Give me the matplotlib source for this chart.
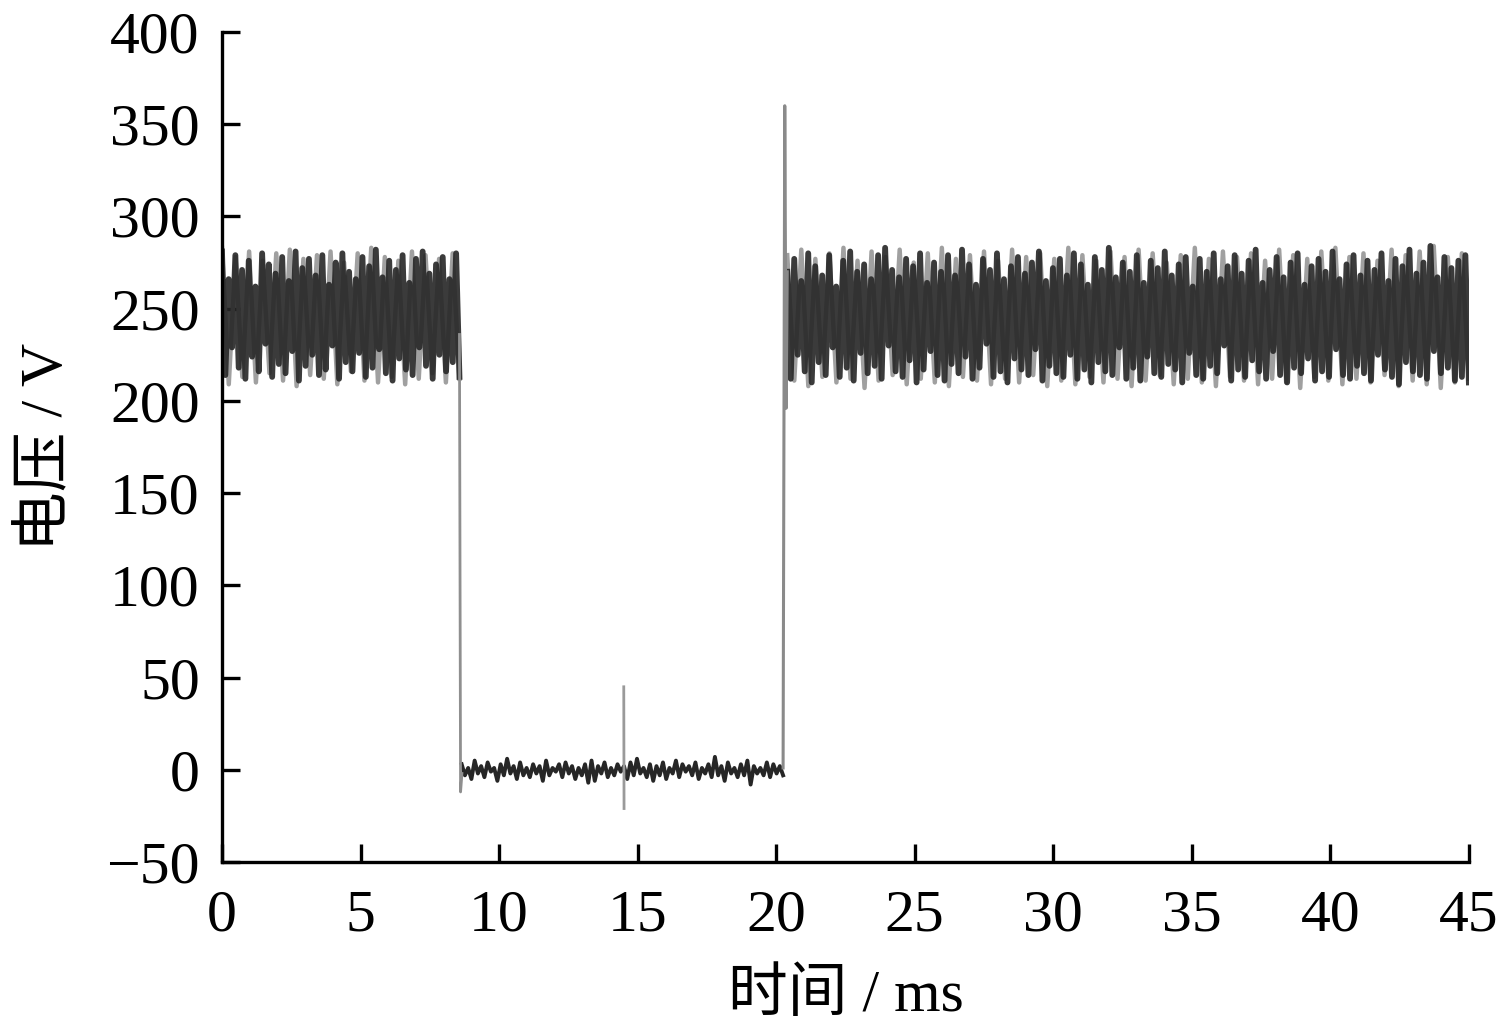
import matplotlib
matplotlib.use("Agg")
import matplotlib.pyplot as plt
import numpy as np

plt.rcParams['font.family'] = ['Liberation Serif', 'Noto Sans CJK SC']
plt.rcParams['axes.unicode_minus'] = True

# segment 1: 0 .. 8.57 ms, ~250 V with noise (peak / trough values)
a_t = (0.0, 8.57)
a_hi = [281, 266, 279, 271, 276, 262, 280, 274, 269, 278, 265, 281, 272, 277, 268, 279, 263, 275,
        280, 270, 266, 278, 273, 282, 267, 276, 271, 279, 264, 277, 281, 269, 274, 278, 266, 280]
a_lo = [214, 229, 218, 212, 224, 216, 231, 213, 220, 215, 227, 211, 219, 225, 214, 217, 230, 212,
        221, 216, 226, 213, 218, 228, 215, 211, 223, 217, 214, 229, 219, 212, 225, 216, 221, 213]
a_hi_faint = [283, 278, 281, 276, 280, 282, 277, 279, 281, 275, 280, 283, 278, 276, 281, 279, 277, 280]
a_lo_faint = [209, 213, 210, 215, 211, 208, 214, 212, 209, 216, 211, 210, 213, 209, 212, 215, 210, 212]

# segment 2: 8.65 .. 20.25 ms, ~0 V
b_t = (8.65, 20.25)
b_hi = [3, 1, 5, 2, 4, 1, 3, 6, 2, 4, 1, 3, 2, 5, 1, 3, 4, 2, 1, 3, 5, 2, 4, 1, 3,
        2, 4, 6, 1, 3, 2, 4, 1, 5, 3, 2, 4, 1, 3, 7, 2, 4, 1, 3, 5, 2, 1, 4, 3, 2]
b_lo = [-3, -5, -2, -4, -1, -6, -3, -2, -5, -3, -4, -2, -6, -3, -1, -4, -2, -5, -3, -7, -6, -2, -4, -3, -1,
        -5, -3, -2, -4, -6, -3, -5, -2, -4, -1, -3, -5, -2, -4, -3, -6, -2, -4, -3, -8, -2, -3, -4, -2, -3]

# segment 3: 20.4 .. 45 ms, ~250 V
c_t = (20.40, 45.0)
c_hi = [270, 277, 265, 280, 273, 268, 279, 262, 276, 281, 270, 274, 266, 279, 283, 271, 267, 277, 273, 280,
        264, 275, 270, 279, 268, 282, 274, 263, 277, 271, 280, 266, 273, 278, 269, 275, 281, 265, 272, 277,
        268, 280, 274, 263, 278, 271, 283, 267, 275, 270, 279, 264, 276, 272, 281, 268, 274, 278, 262, 277,
        270, 280, 266, 273, 279, 269, 276, 282, 264, 271, 278, 267, 275, 280, 263, 273, 277, 270, 281, 266,
        274, 279, 268, 276, 271, 280, 265, 277, 273, 282, 269, 275, 284, 267, 278, 272, 276, 279]
c_lo = [212, 225, 216, 210, 221, 214, 229, 213, 218, 211, 226, 215, 219, 212, 230, 216, 213, 222, 210, 217,
        227, 214, 211, 220, 215, 224, 212, 218, 231, 213, 216, 210, 223, 217, 214, 228, 211, 219, 215, 213,
        225, 212, 217, 210, 221, 216, 214, 229, 212, 218, 211, 224, 215, 213, 220, 217, 210, 226, 214, 212,
        219, 215, 230, 211, 217, 213, 222, 216, 212, 227, 214, 210, 218, 215, 223, 211, 216, 213, 228, 214,
        212, 219, 215, 211, 225, 217, 213, 209, 221, 216, 214, 212, 227, 215, 218, 211, 213, 210]
c_hi_faint = [279, 282, 277, 280, 283, 276, 281, 278, 282, 275, 280, 283, 277, 279, 281, 276, 282, 278, 280, 277,
              283, 279, 276, 281, 278, 282, 280, 275, 279, 283, 277, 281, 278, 280, 276, 282, 279, 277, 281, 283,
              278, 280, 276, 282, 279, 281, 284, 278, 280]
c_lo_faint = [211, 208, 213, 210, 212, 207, 211, 214, 209, 212, 210, 208, 213, 211, 209, 212, 210, 214, 208, 211,
              209, 213, 210, 212, 208, 211, 214, 209, 212, 210, 208, 213, 211, 209, 212, 210, 207, 213, 211, 209,
              212, 210, 214, 208, 211, 209, 207, 210, 212]

# switching transients
drop_x = [8.57, 8.61, 8.66]
drop_y = [236, -12, -2]
mid_x = [14.50, 14.51]
mid_y = [45, -21]
rise_x = [20.25, 20.31, 20.36, 20.40]
rise_y = [1, 360, 196, 270]

xticks = np.arange(0, 46, 5)
yticks = np.arange(-50, 401, 50)


def zigzag(span, hi, lo):
    y = np.column_stack([hi, lo]).ravel()
    x = np.linspace(span[0], span[1], len(y))
    return x, y


def main():
    fig = plt.figure(figsize=(15.05, 10.32), dpi=100)
    ax = fig.add_axes([0.1475, 0.1647, 0.8285, 0.8043])

    for span, hi, lo in [(a_t, a_hi_faint, a_lo_faint), (c_t, c_hi_faint, c_lo_faint)]:
        x, y = zigzag(span, hi, lo)
        ax.plot(x, y, color='#a0a0a0', lw=3.2)
    for span, hi, lo in [(a_t, a_hi, a_lo), (c_t, c_hi, c_lo)]:
        x, y = zigzag(span, hi, lo)
        ax.plot(x, y, color='#262626', lw=4.2, alpha=0.9)
    x, y = zigzag(b_t, b_hi, b_lo)
    ax.plot(x, y, color='#262626', lw=2.8)

    ax.plot(drop_x, drop_y, color='#8f8f8f', lw=2.0)
    ax.plot(mid_x, mid_y, color='#9a9a9a', lw=2.0)
    ax.plot(rise_x, rise_y, color='#8a8a8a', lw=2.2)

    ax.set_xlim(0, 45)
    ax.set_ylim(-50, 400)
    ax.set_xticks(xticks)
    ax.set_yticks(yticks)
    ax.spines['top'].set_visible(False)
    ax.spines['right'].set_visible(False)
    for s in ['left', 'bottom']:
        ax.spines[s].set_linewidth(2.4)
    ax.tick_params(direction='in', length=13, width=2.4, labelsize=43)
    ax.tick_params(axis='x', pad=20)
    ax.tick_params(axis='y', pad=16)

    ax.set_xlabel("时间 / ms", fontsize=43, labelpad=18)
    ax.set_ylabel("电压 / V", fontsize=43, labelpad=22)

    plt.savefig('out.png', dpi=100)
    plt.close()


if __name__ == '__main__':
    main()
